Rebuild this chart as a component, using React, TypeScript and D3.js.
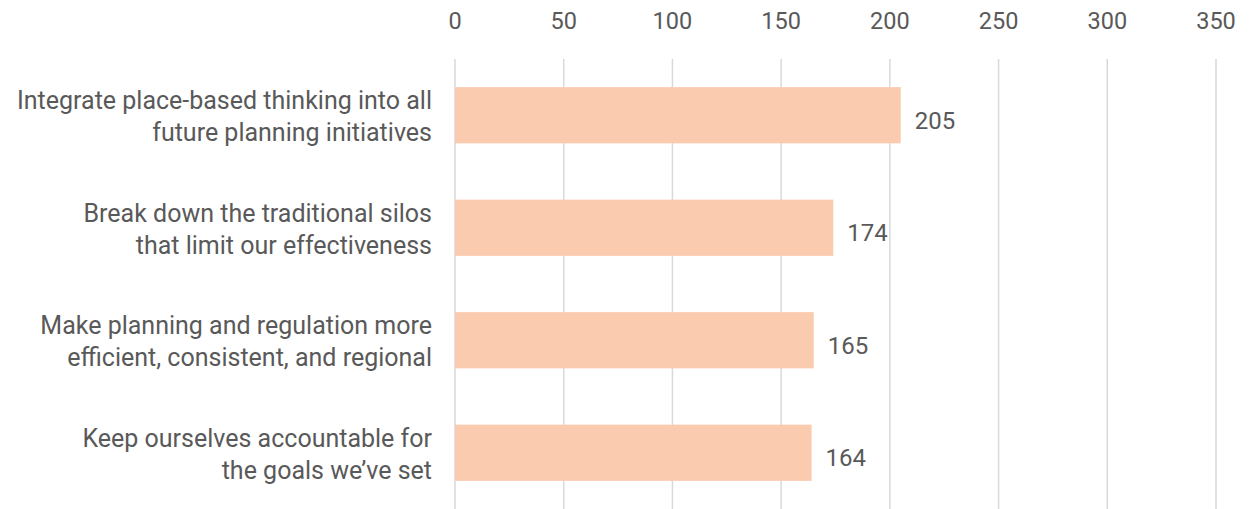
import React from "react";
import * as d3 from "d3";

const categories = [
  ["Integrate place-based thinking into all", "future planning initiatives"],
  ["Break down the traditional silos", "that limit our effectiveness"],
  ["Make planning and regulation more", "efficient, consistent, and regional"],
  ["Keep ourselves accountable for", "the goals we\u2019ve set"],
];
const values = [205, 174, 165, 164];
const tickValues = [0, 50, 100, 150, 200, 250, 300, 350];

const W = 1259;
const H = 509;
const FONT = "Roboto, 'Noto Sans', sans-serif";
const GREY = "#595959";

export default function App() {
  const x = d3.scaleLinear().domain([0, 350]).range([455, 1216]);
  const y = d3
    .scaleBand<number>()
    .domain(d3.range(categories.length))
    .range([59, 509])
    .paddingInner(0.5)
    .paddingOuter(0.25);

  return (
    <svg
      width={W}
      height={H}
      style={{ position: "absolute", left: 0, top: 0 }}
      fontFamily={FONT}
    >
      {tickValues.map((t) => (
        <g key={t}>
          <line x1={x(t)} x2={x(t)} y1={59} y2={509} stroke="#d9d9d9" strokeWidth={1.5} />
          <text x={x(t)} y={21} dy="0.35em" textAnchor="middle" fontSize={23.5} fill={GREY}>
            {t}
          </text>
        </g>
      ))}
      {values.map((v, i) => {
        const yy = y(i)!;
        const bw = y.bandwidth();
        const cy = yy + bw / 2;
        return (
          <g key={i}>
            <rect x={x(0)} y={yy} width={x(v) - x(0)} height={bw} fill="#FBCBB0" />
            <text x={x(v) + 14} y={cy + 5} dy="0.35em" fontSize={24} fill={GREY}>
              {v}
            </text>
            {categories[i].map((line, j) => (
              <text
                key={j}
                x={432}
                y={cy + (j - 0.5) * 32 + 1}
                dy="0.35em"
                textAnchor="end"
                fontSize={25}
                fill={GREY}
              >
                {line}
              </text>
            ))}
          </g>
        );
      })}
    </svg>
  );
}
